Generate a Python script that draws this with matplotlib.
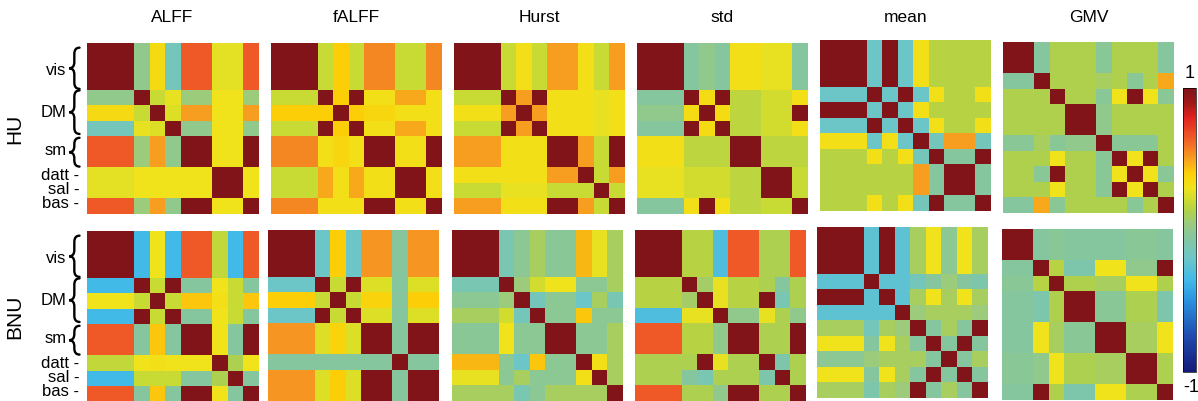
import numpy as np
import matplotlib
matplotlib.use("Agg")
import matplotlib.pyplot as plt
from matplotlib.colors import LinearSegmentedColormap
from matplotlib.path import Path
from matplotlib.patches import PathPatch

plt.rcParams['font.family'] = ['Liberation Sans', 'DejaVu Sans']

measures = ['ALFF', 'fALFF', 'Hurst', 'std', 'mean', 'GMV']
sites = ['HU', 'BNU']
net_labels = ['vis', 'DM', 'sm', 'datt', 'sal', 'bas']

# upper triangle of each 11x11 correlation matrix, row i holds columns i+1..10
alff_hu = [
    [1, 1, 0.0, 0.35, -0.15, 0.65, 0.65, 0.27, 0.27, 0.65],
    [1, 0.0, 0.35, -0.15, 0.65, 0.65, 0.27, 0.27, 0.65],
    [0.0, 0.35, -0.15, 0.65, 0.65, 0.27, 0.27, 0.65],
    [0.2, 0.28, 0.05, 0.05, 0.3, 0.3, 0.05],
    [0.25, 0.5, 0.5, 0.3, 0.3, 0.5],
    [0.0, 0.0, 0.3, 0.3, 0.0],
    [1, 0.3, 0.3, 1],
    [0.3, 0.3, 1],
    [1, 0.3],
    [0.3],
]
alff_bnu = [
    [1, 1, -0.35, 0.3, -0.35, 0.65, 0.65, 0.18, -0.35, 0.65],
    [1, -0.35, 0.3, -0.35, 0.65, 0.65, 0.18, -0.35, 0.65],
    [-0.35, 0.3, -0.35, 0.65, 0.65, 0.18, -0.35, 0.65],
    [0.2, 1, -0.05, -0.05, 0.3, 0.2, -0.05],
    [0.2, 0.42, 0.42, 0.32, 0.2, 0.42],
    [-0.05, -0.05, 0.3, 0.2, -0.05],
    [1, 0.3, -0.05, 1],
    [0.3, -0.05, 1],
    [0.12, 0.3],
    [-0.05],
]
falff_hu = [
    [1, 1, 0.2, 0.4, 0.2, 0.55, 0.55, 0.2, 0.2, 0.55],
    [1, 0.2, 0.4, 0.2, 0.55, 0.55, 0.2, 0.2, 0.55],
    [0.2, 0.4, 0.2, 0.55, 0.55, 0.2, 0.2, 0.55],
    [0.4, 1, 0.32, 0.32, 0.48, 0.48, 0.32],
    [0.4, 0.36, 0.36, 0.32, 0.32, 0.32],
    [0.32, 0.32, 0.48, 0.48, 0.32],
    [1, 0.32, 0.32, 1],
    [0.32, 0.32, 1],
    [1, 0.32],
    [0.32],
]
falff_bnu = [
    [1, 1, -0.2, 0.4, -0.2, 0.52, 0.52, -0.05, 0.52, 0.52],
    [1, -0.2, 0.4, -0.2, 0.52, 0.52, -0.05, 0.52, 0.52],
    [-0.2, 0.4, -0.2, 0.52, 0.52, -0.05, 0.52, 0.52],
    [0.2, 1, 0.25, 0.25, -0.05, 0.25, 0.25],
    [0.2, 0.38, 0.38, -0.05, 0.4, 0.4],
    [0.25, 0.25, -0.05, 0.25, 0.25],
    [1, -0.05, 1, 1],
    [-0.05, 1, 1],
    [-0.05, -0.05],
    [1],
]
hurst_hu = [
    [1, 1, 0.2, 0.32, 0.2, 0.5, 0.5, 0.32, 0.2, 0.5],
    [1, 0.2, 0.32, 0.2, 0.5, 0.5, 0.32, 0.2, 0.5],
    [0.2, 0.32, 0.2, 0.5, 0.5, 0.32, 0.2, 0.5],
    [0.5, 1, 0.32, 0.32, 0.32, 0.28, 0.32],
    [0.5, 0.32, 0.32, 0.32, 0.28, 0.32],
    [0.32, 0.32, 0.32, 0.28, 0.32],
    [1, 0.5, 0.2, 1],
    [0.5, 0.2, 1],
    [0.2, 0.5],
    [0.2],
]
hurst_bnu = [
    [1, 1, -0.12, -0.02, 0.1, -0.03, -0.03, 0.45, 0.28, 0.1],
    [1, -0.12, -0.02, 0.1, -0.03, -0.03, 0.45, 0.28, 0.1],
    [-0.12, -0.02, 0.1, -0.03, -0.03, 0.45, 0.28, 0.1],
    [0.05, 0.22, 0.3, 0.3, -0.02, -0.02, 0.1],
    [-0.15, -0.02, -0.02, -0.2, 0.1, -0.12],
    [-0.02, -0.02, 0.42, -0.02, -0.02],
    [1, -0.02, -0.02, 0.1],
    [-0.02, -0.02, 0.1],
    [0.32, 0.1],
    [0.1],
]
std_hu = [
    [1, 1, -0.05, 0.0, -0.05, 0.32, 0.32, 0.28, 0.28, -0.05],
    [1, -0.05, 0.0, -0.05, 0.32, 0.32, 0.28, 0.28, -0.05],
    [-0.05, 0.0, -0.05, 0.32, 0.32, 0.28, 0.28, -0.05],
    [0.33, 1, 0.17, 0.17, 0.22, 0.22, 0.32],
    [0.33, 0.17, 0.17, 0.22, 0.22, 1],
    [0.17, 0.17, 0.22, 0.22, 0.32],
    [1, 0.17, 0.17, 0.17],
    [0.17, 0.17, 0.17],
    [1, 0.2],
    [0.2],
]
std_bnu = [
    [1, 1, 0.15, 0.15, -0.3, 0.65, 0.65, 0.12, 0.12, 0.65],
    [1, 0.15, 0.15, -0.3, 0.65, 0.65, 0.12, 0.12, 0.65],
    [0.15, 0.15, -0.3, 0.65, 0.65, 0.12, 0.12, 0.65],
    [0.08, 0.28, 0.15, 0.15, 0.12, -0.05, 0.12],
    [0.28, 0.15, 0.15, 1, -0.12, 0.12],
    [0.0, 0.0, 0.28, 0.12, 0.0],
    [1, 0.12, 0.12, 1],
    [0.12, 0.12, 1],
    [-0.1, 0.12],
    [0.12],
]
mean_hu = [
    [1, 1, -0.2, 1, -0.2, 0.32, 0.15, 0.15, 0.15, 0.15],
    [1, -0.2, 1, -0.2, 0.32, 0.15, 0.15, 0.15, 0.15],
    [-0.2, 1, -0.2, 0.32, 0.15, 0.15, 0.15, 0.15],
    [-0.2, 1, -0.2, 0.32, 0.15, 0.15, 0.32],
    [-0.2, 0.32, 0.15, 0.15, 0.15, 0.15],
    [-0.2, 0.32, 0.15, 0.15, 0.32],
    [-0.15, 0.5, 0.5, -0.15],
    [-0.05, -0.05, 1],
    [1, -0.05],
    [-0.05],
]
mean_bnu = [
    [1, 1, -0.25, 1, -0.25, 0.1, 0.3, -0.02, 0.3, 0.1],
    [1, -0.25, 1, -0.25, 0.1, 0.3, -0.02, 0.3, 0.1],
    [-0.25, 1, -0.25, 0.1, 0.3, -0.02, 0.3, 0.1],
    [-0.25, -0.25, -0.15, -0.05, 0.05, -0.05, -0.1],
    [-0.25, 0.1, 0.3, 0.1, 0.3, 0.1],
    [0.05, 0.1, 0.1, 0.1, 0.05],
    [-0.05, 0.1, -0.05, 1],
    [-0.05, 1, -0.05],
    [-0.05, 0.1],
    [-0.05],
]
gmv_hu = [
    [1, -0.05, 0.13, 0.13, 0.13, -0.03, 0.13, 0.13, 0.13, -0.05],
    [-0.05, 0.13, 0.13, 0.13, -0.03, 0.13, 0.13, 0.13, -0.05],
    [0.13, 0.13, 0.13, 0.1, 0.13, -0.03, 0.13, 0.48],
    [0.13, 0.13, -0.03, 0.3, 1, 0.3, -0.03],
    [1, 0.0, 0.13, 0.13, 0.13, 0.13],
    [0.0, 0.13, 0.13, 0.13, 0.13],
    [-0.03, -0.03, -0.03, 0.13],
    [0.3, 1, 0.13],
    [0.3, -0.03],
    [0.13],
]
gmv_bnu = [
    [1, -0.05, -0.03, -0.05, -0.05, -0.05, -0.05, -0.03, -0.03, -0.05],
    [-0.05, -0.03, -0.05, -0.05, -0.05, -0.05, -0.03, -0.03, -0.05],
    [0.15, -0.1, -0.1, 0.3, 0.3, 0.0, 0.0, 1],
    [0.13, 0.13, 0.1, 0.1, 0.3, 0.3, 0.13],
    [1, -0.03, -0.03, 0.12, 0.12, -0.1],
    [-0.03, -0.03, 0.12, 0.12, -0.1],
    [1, 0.1, 0.1, 0.3],
    [0.1, 0.1, 0.3],
    [1, 0.12],
    [0.12],
]

panels = {
    ('HU', 'ALFF'): alff_hu, ('BNU', 'ALFF'): alff_bnu,
    ('HU', 'fALFF'): falff_hu, ('BNU', 'fALFF'): falff_bnu,
    ('HU', 'Hurst'): hurst_hu, ('BNU', 'Hurst'): hurst_bnu,
    ('HU', 'std'): std_hu, ('BNU', 'std'): std_bnu,
    ('HU', 'mean'): mean_hu, ('BNU', 'mean'): mean_bnu,
    ('HU', 'GMV'): gmv_hu, ('BNU', 'GMV'): gmv_bnu,
}

# muted jet-like colormap as in the figure
cmap_vals = [-1.0, -0.75, -0.5, -0.35, -0.2, -0.05, 0.05, 0.13, 0.2, 0.3, 0.4, 0.5, 0.65, 0.8, 0.9, 1.0]
cmap_cols = ['#141a78', '#1f4bb0', '#2a92e0', '#42bae8', '#6cc6c8', '#86c79f', '#9ccb7c', '#b0d14c',
             '#c8da34', '#f0e31c', '#fcd008', '#f8a020', '#f05a28', '#e02020', '#a01818', '#801418']
cmap = LinearSegmentedColormap.from_list('muted_jet', [((v + 1) / 2, c) for v, c in zip(cmap_vals, cmap_cols)])


def full_matrix(upper):
    n = len(upper) + 1
    m = np.eye(n)
    for i, row in enumerate(upper):
        for k, v in enumerate(row):
            j = i + 1 + k
            m[i, j] = m[j, i] = v
    return m


def brace(ax, y0, y1, x_tip=-1.65, x_end=-0.98, d=0.4):
    mid = (y0 + y1) / 2
    xm = (x_tip + x_end) / 2
    verts = [(x_end, y0), (xm, y0), (xm, y0 + d), (xm, mid - d), (xm, mid), (x_tip, mid),
             (xm, mid), (xm, mid + d), (xm, y1 - d), (xm, y1), (x_end, y1)]
    codes = [Path.MOVETO, Path.CURVE3, Path.CURVE3, Path.LINETO, Path.CURVE3, Path.CURVE3,
             Path.CURVE3, Path.CURVE3, Path.LINETO, Path.CURVE3, Path.CURVE3]
    ax.add_patch(PathPatch(Path(verts, codes), fill=False, lw=1.7, color='black',
                           capstyle='round', clip_on=False))


W, H = 1198, 401
fig = plt.figure(figsize=(W / 100, H / 100), dpi=100)
size = 171
xs = {'HU': [87, 271, 454, 637, 820, 1003], 'BNU': [87, 268, 452, 635, 817, 1002]}
ys = {'HU': [43, 43, 43, 43, 40, 42], 'BNU': [231, 230, 230, 230, 227, 229]}

im = None
for site in sites:
    for c, meas in enumerate(measures):
        x0, y0 = xs[site][c], ys[site][c]
        ax = fig.add_axes([x0 / W, 1 - (y0 + size) / H, size / W, size / H])
        im = ax.imshow(full_matrix(panels[(site, meas)]), cmap=cmap, vmin=-1, vmax=1,
                       interpolation='nearest', aspect='auto')
        ax.axis('off')
        if site == 'HU':
            fig.text((x0 + size / 2) / W, 1 - 18 / H, meas, ha='center', va='center', fontsize=12.5)
        if c == 0:
            fs = 12
            ax.text(-1.8, 1.25, net_labels[0], ha='right', va='center', fontsize=fs)
            ax.text(-1.8, 3.95, net_labels[1], ha='right', va='center', fontsize=fs)
            ax.text(-1.8, 6.4, net_labels[2], ha='right', va='center', fontsize=fs)
            brace(ax, -0.2, 2.45)
            brace(ax, 2.55, 5.35)
            brace(ax, 5.6, 7.45)
            for lab, yy in zip(net_labels[3:], [8.0, 8.95, 9.85]):
                ax.text(-1.0, yy, lab + ' -', ha='right', va='center', fontsize=fs)
            fig.text(15 / W, 1 - (y0 + size / 2) / H, site, rotation=90, ha='center', va='center',
                     fontsize=15)

cax = fig.add_axes([1183 / W, 1 - 372 / H, 13 / W, 284 / H])
cb = fig.colorbar(im, cax=cax)
cb.set_ticks([])
cb.outline.set_linewidth(0.5)
fig.text(1190 / W, 1 - 74 / H, '1', ha='center', va='center', fontsize=13)
fig.text(1191 / W, 1 - 388 / H, '-1', ha='center', va='center', fontsize=13)

fig.savefig('out.png', dpi=100)
